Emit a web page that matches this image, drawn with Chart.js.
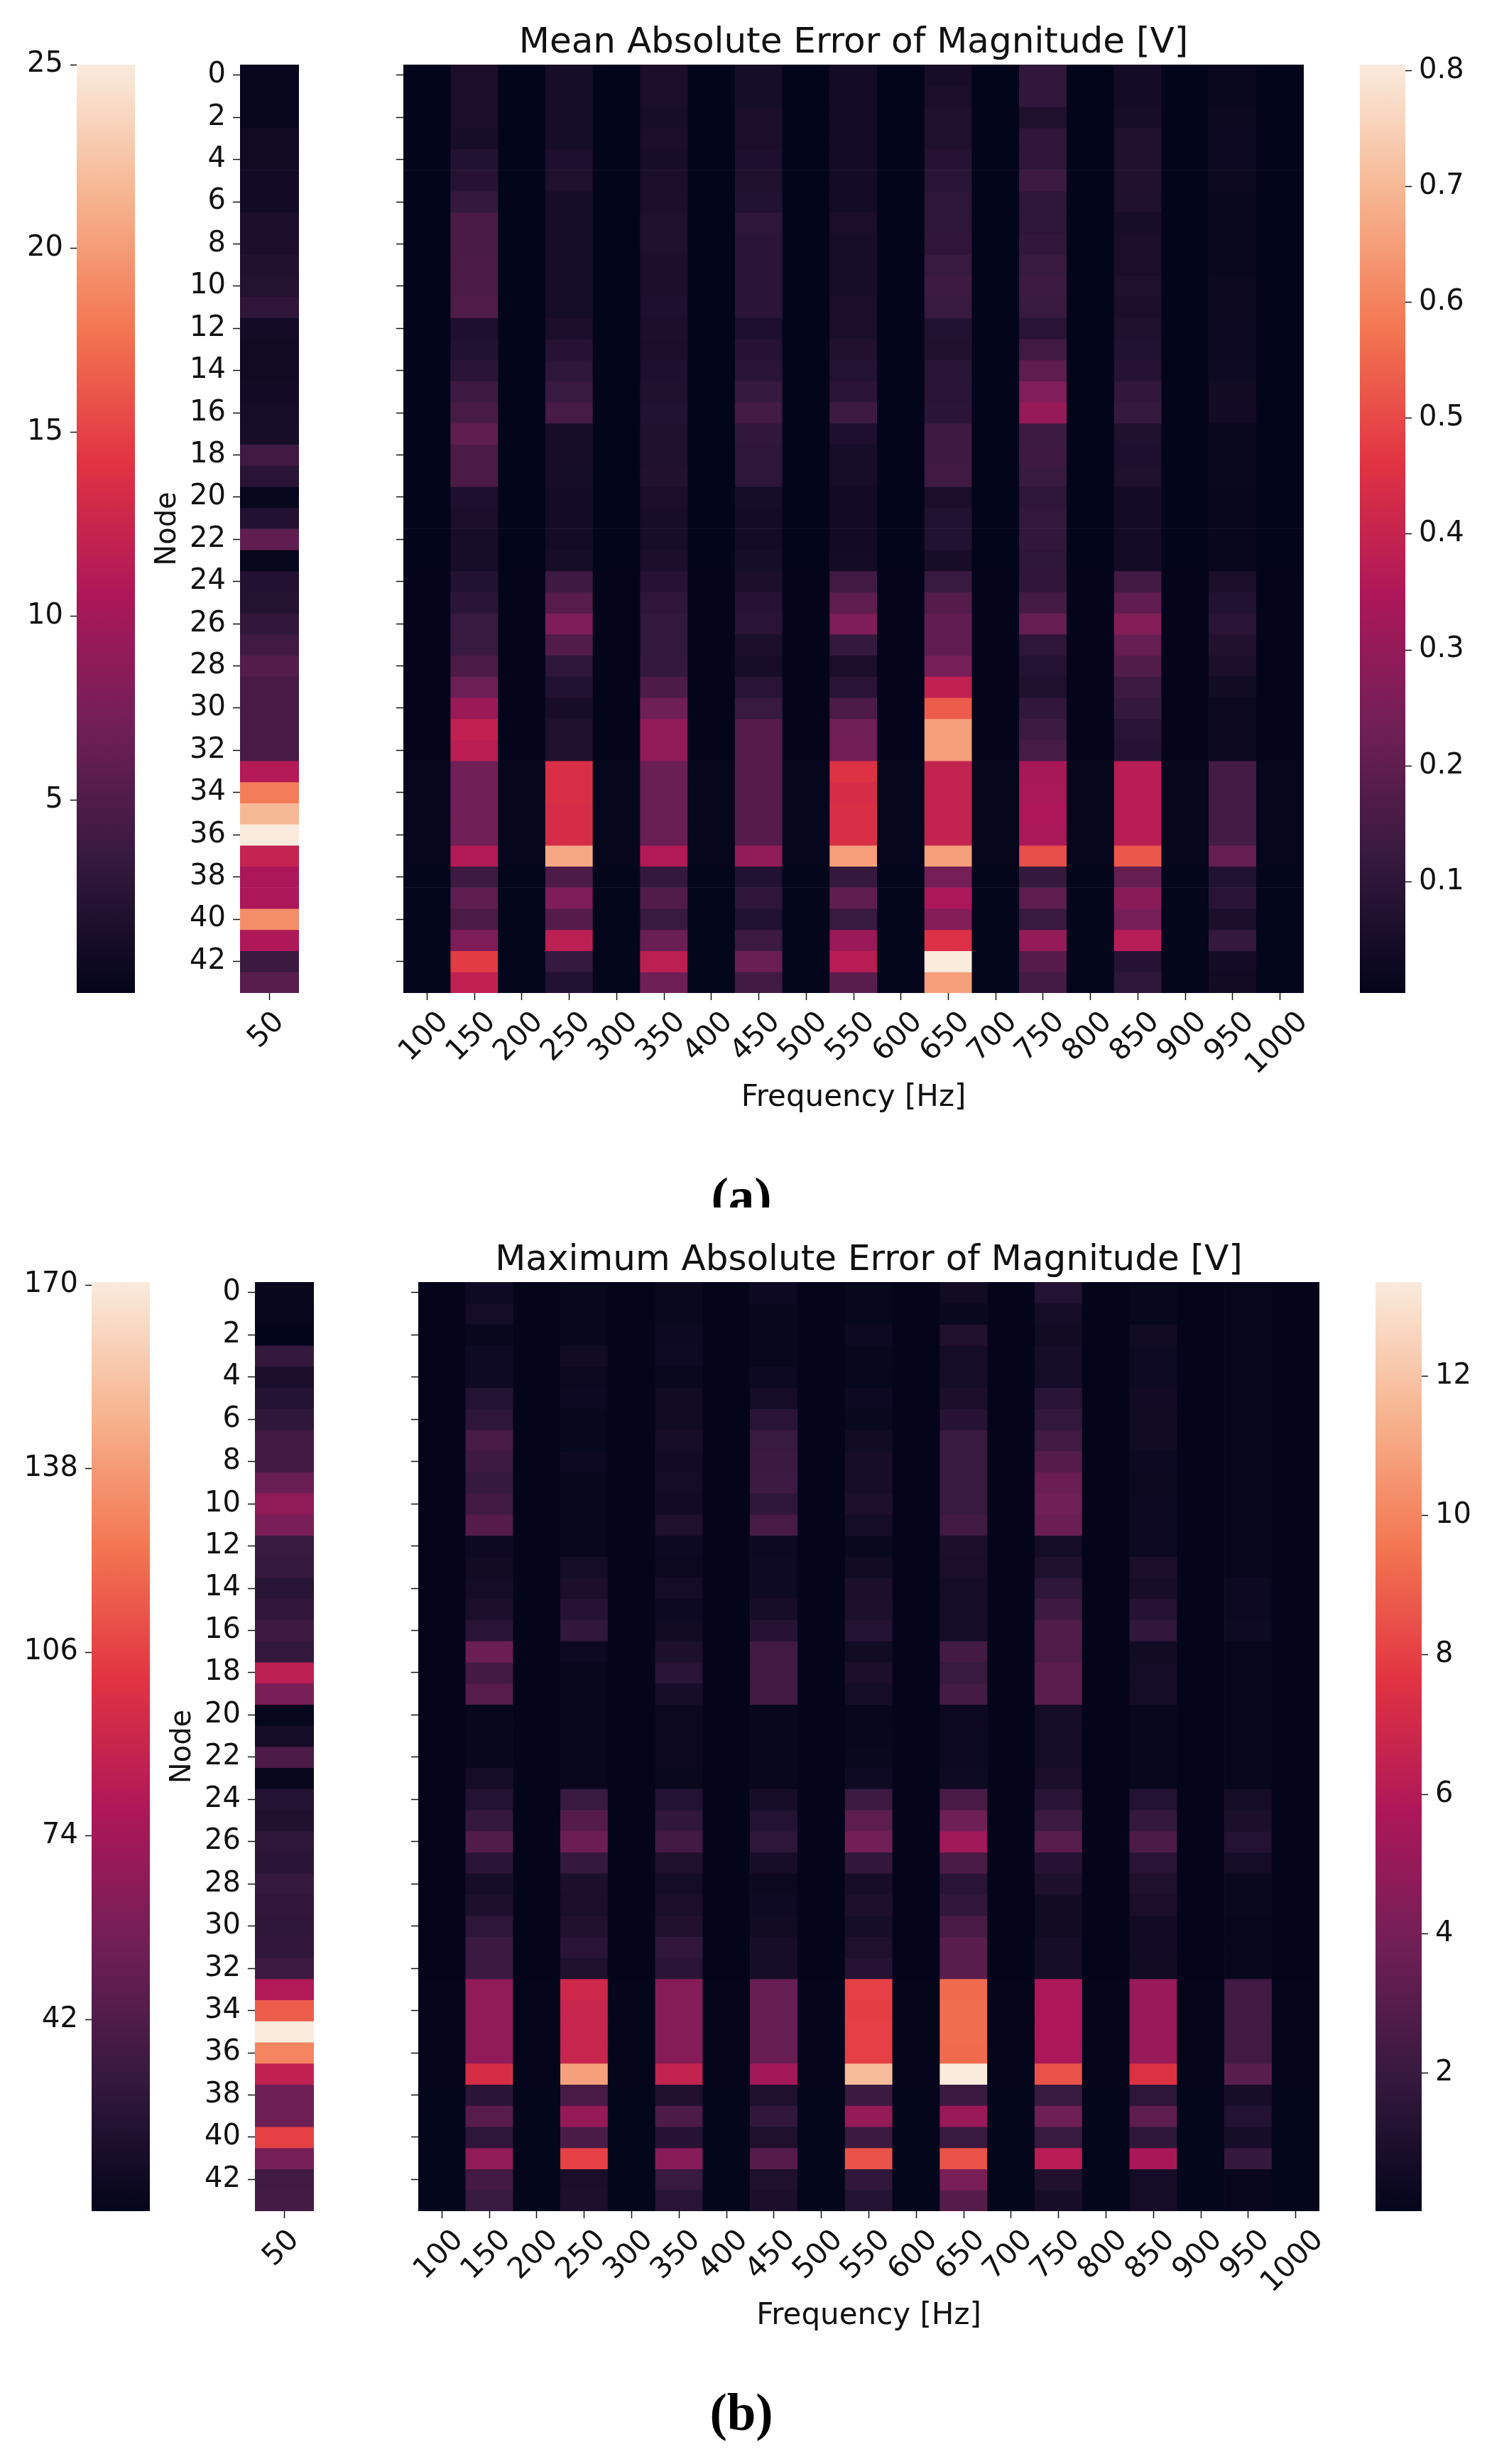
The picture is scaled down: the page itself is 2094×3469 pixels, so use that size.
<!DOCTYPE html>
<html>
<head>
<meta charset="utf-8">
<title>Absolute Error of Magnitude</title>
<script src="https://cdn.jsdelivr.net/npm/chart.js@4/dist/chart.umd.min.js"></script>
<style>
  html, body { margin: 0; padding: 0; background: #fff; }
  #page { position: relative; width: 2094px; height: 3469px; overflow: hidden; }
  canvas { position: absolute; }
  .caption { position: absolute; left: 944px; width: 200px; text-align: center; overflow: hidden;
             font: bold 73px/84px "Liberation Serif", serif; color: #000; }
</style>
</head>
<body>
<div id="page">
  <div class="caption" style="top:1643px;height:57px">(a)</div>
  <div class="caption" style="top:3355px;height:84px">(b)</div>
</div>
<script>
const nodes = [0,1,2,3,4,5,6,7,8,9,10,11,12,13,14,15,16,17,18,19,20,21,22,23,24,25,26,27,28,29,30,31,32,33,34,35,36,37,38,39,40,41,42,43];
const nodeTicks = [0,2,4,6,8,10,12,14,16,18,20,22,24,26,28,30,32,34,36,38,40,42];
const lowFreq = [50];
const highFreqs = [100,150,200,250,300,350,400,450,500,550,600,650,700,750,800,850,900,950,1000];

// mean absolute error [V], one array per frequency, node 0 first
const mean50 = [.1,.1,.1,.7,.7,.9,.9,1.5,1.6,1.9,2.1,2.9,1.0,.7,.7,.9,1.1,1.2,4.1,2.5,.05,2.0,5.9,.05,2.0,2.1,3.1,4.0,5.2,4.5,4.5,4.5,4.5,11.0,18.2,21.7,25,12.2,10.5,10.5,19.2,10.7,3.7,5.5];
const meanQuiet = [.005,.005,.005,.005,.005,.005,.005,.005,.005,.005,.005,.005,.005,.005,.005,.005,.005,.005,.005,.005,.005,.005,.005,.005,.006,.006,.006,.006,.006,.006,.006,.006,.006,.01,.01,.01,.01,.01,.007,.007,.007,.007,.007,.007];
const mean150 = [.056,.056,.056,.052,.076,.084,.116,.160,.160,.164,.164,.168,.064,.076,.096,.136,.156,.2,.164,.164,.064,.056,.052,.052,.076,.096,.124,.124,.164,.224,.316,.388,.376,.232,.232,.232,.232,.356,.132,.196,.164,.26,.476,.388];
const mean250 = [.048,.048,.048,.048,.064,.068,.048,.048,.048,.048,.048,.048,.06,.084,.1,.124,.152,.052,.052,.048,.044,.044,.044,.048,.136,.184,.26,.172,.1,.076,.052,.068,.068,.444,.444,.436,.436,.668,.164,.26,.18,.38,.12,.076];
const mean350 = [.056,.056,.052,.056,.052,.056,.06,.068,.068,.06,.06,.064,.06,.056,.064,.068,.076,.068,.068,.072,.056,.052,.052,.06,.084,.104,.112,.112,.116,.164,.228,.292,.292,.22,.22,.22,.22,.356,.116,.172,.124,.22,.38,.228];
const mean450 = [.048,.048,.056,.056,.064,.068,.076,.1,.096,.096,.096,.096,.064,.084,.096,.12,.148,.108,.1,.1,.048,.044,.044,.048,.06,.084,.092,.056,.052,.092,.124,.18,.18,.18,.18,.18,.18,.292,.076,.104,.076,.132,.22,.14];
const mean550 = [.044,.044,.044,.044,.044,.044,.044,.056,.052,.052,.052,.056,.056,.072,.08,.096,.132,.064,.052,.052,.04,.04,.04,.044,.14,.196,.26,.116,.056,.092,.164,.232,.236,.452,.436,.444,.444,.652,.116,.2,.124,.312,.372,.188];
const mean650 = [.052,.056,.068,.068,.084,.088,.1,.1,.104,.124,.132,.124,.076,.072,.088,.092,.096,.136,.136,.14,.056,.076,.076,.052,.124,.18,.204,.204,.244,.388,.532,.652,.652,.396,.396,.396,.396,.652,.244,.344,.268,.448,.804,.652];
const mean750 = [.108,.108,.068,.104,.104,.132,.1,.1,.108,.124,.132,.124,.092,.14,.196,.264,.304,.132,.136,.124,.1,.112,.108,.1,.104,.148,.212,.1,.08,.068,.108,.132,.152,.336,.34,.348,.34,.508,.116,.196,.124,.3,.18,.148];
const mean850 = [.044,.044,.052,.072,.072,.072,.068,.052,.056,.056,.068,.06,.068,.076,.084,.108,.12,.068,.064,.068,.044,.044,.044,.044,.144,.204,.268,.212,.172,.132,.116,.088,.084,.372,.372,.372,.372,.524,.212,.28,.244,.368,.084,.1];
const mean950 = [.02,.02,.024,.028,.028,.024,.02,.02,.02,.02,.024,.024,.028,.028,.032,.036,.04,.02,.02,.02,.016,.016,.016,.016,.056,.076,.096,.072,.056,.036,.024,.024,.024,.148,.148,.148,.148,.212,.076,.092,.06,.116,.044,.036];
const meanColumns = [meanQuiet,mean150,meanQuiet,mean250,meanQuiet,mean350,meanQuiet,mean450,meanQuiet,mean550,meanQuiet,mean650,meanQuiet,mean750,meanQuiet,mean850,meanQuiet,mean950,meanQuiet];

// maximum absolute error [V]
const max50 = [11,10.2,8.7,31.3,19.1,23.2,28.9,37,37,52.3,66.9,58.8,32.9,32.1,25.6,29.7,35.3,30.5,84.7,58.8,10.2,16.7,41,11,24,22.4,28,27.2,32.1,29.7,28.9,29.7,34.5,79.9,115.5,170.5,130,86.4,54,54,105.8,57.2,36.1,37.8];
const maxQuiet = [.06,.06,.06,.06,.06,.06,.06,.06,.06,.06,.06,.06,.06,.06,.06,.06,.06,.06,.06,.06,.06,.06,.06,.06,.06,.06,.06,.06,.06,.06,.06,.06,.06,.09,.09,.09,.09,.09,.07,.07,.07,.07,.07,.07];
const max150 = [.49,.69,.18,.49,.49,1.22,1.62,2.55,2.15,1.95,2.29,2.95,.42,.55,.69,.95,1.49,3.62,2.35,3.02,.18,.18,.18,.69,1.22,1.89,2.82,1.49,.75,1.02,1.62,2.09,2.09,4.82,4.82,4.82,4.82,7.22,1.55,3.02,1.62,4.82,2.35,2.02];
const max250 = [.18,.18,.18,.55,.35,.42,.18,.18,.42,.18,.18,.18,.22,.69,.95,1.35,1.75,.42,.22,.22,.18,.18,.18,.22,2.02,2.95,3.62,1.89,.95,.89,1.15,1.49,1.09,6.95,6.69,6.69,6.69,10.82,2.55,5.02,2.62,8.02,.89,1.02];
const max350 = [.29,.29,.42,.49,.29,.55,.55,.82,.62,.69,.62,1.09,.42,.35,.69,.42,.55,1.02,1.49,.82,.35,.35,.35,.29,1.22,1.75,2.35,1.09,.69,.89,1.15,1.75,1.49,4.49,4.49,4.49,4.49,6.55,1.15,2.69,1.35,4.55,2.02,1.42];
const max450 = [.42,.22,.22,.22,.42,.69,1.49,2.02,2.09,2.15,1.69,2.55,.42,.49,.49,.82,1.35,2.29,2.29,2.29,.22,.22,.22,.22,.82,1.22,1.62,.82,.35,.49,.55,.82,.75,3.55,3.55,3.55,3.55,5.42,1.09,1.75,1.09,2.95,1.09,.95];
const max550 = [.18,.18,.42,.22,.18,.42,.29,.55,.82,.82,1.02,.69,.29,.55,.95,1.02,1.22,.55,.95,.69,.18,.22,.29,.49,2.15,3.22,3.89,1.75,.82,1.02,.75,1.09,1.35,8.02,7.95,8.02,8.02,11.68,2.09,4.95,2.09,8.55,1.75,1.22];
const max650 = [.55,.29,1.15,.69,.69,.95,1.35,2.02,2.02,2.02,2.02,2.29,.95,.89,.69,.69,.69,2.35,2.02,2.42,.42,.42,.42,.49,2.55,3.75,5.35,2.62,1.49,1.75,2.55,3.09,3.09,9.22,9.29,9.29,9.22,13.35,2.09,5.15,2.02,8.55,4.15,2.95];
const max750 = [1.22,.69,.55,.75,.69,1.49,1.82,2.29,2.95,3.62,3.82,3.62,.69,1.09,1.69,2.22,2.82,2.75,3.15,3.15,.69,.69,.69,.89,1.49,2.15,3.09,1.35,1.02,.55,.55,.75,.75,5.69,5.75,5.75,5.69,8.55,2.02,3.75,2.02,6.15,1.15,.82];
const max850 = [.18,.18,.55,.49,.49,.62,.55,.55,.42,.35,.42,.42,.42,.95,.82,1.35,1.75,.55,.69,.69,.22,.18,.18,.18,1.22,1.89,2.69,1.49,1.09,.89,.62,.62,.55,5.09,5.09,5.09,5.09,7.49,1.62,3.22,1.69,5.62,.69,.69];
const max950 = [.15,.15,.15,.15,.15,.12,.12,.12,.12,.12,.12,.12,.12,.12,.42,.42,.49,.12,.12,.12,.12,.12,.12,.12,.69,.95,1.22,.69,.29,.29,.18,.18,.18,2.29,2.29,2.29,2.29,3.09,.82,1.22,.75,1.89,.22,.22];
const maxColumns = [maxQuiet,max150,maxQuiet,max250,maxQuiet,max350,maxQuiet,max450,maxQuiet,max550,maxQuiet,max650,maxQuiet,max750,maxQuiet,max850,maxQuiet,max950,maxQuiet];

const meanLowTicks = [5,10,15,20,25];
const meanHighTicks = [.1,.2,.3,.4,.5,.6,.7,.8];
const maxLowTicks = [42,74,106,138,170];
const maxHighTicks = [2,4,6,8,10,12];

const rocketStops = [[3,5,26],[53,25,62],[112,31,87],[173,23,89],[225,51,66],[243,118,81],[246,180,143],[250,235,221]];

const FONT = '"DejaVu Sans", sans-serif';
const INK = '#111';
const page = document.getElementById('page');

function rocket(t){
  t = Math.min(1, Math.max(0, t));
  const p = t * (rocketStops.length - 1);
  const i = Math.min(Math.floor(p), rocketStops.length - 2);
  const a = rocketStops[i], b = rocketStops[i + 1], f = p - i;
  return `rgb(${a.map((c, k) => Math.round(c + (b[k] - c) * f)).join(',')})`;
}

function addCanvas(left, top, width, height){
  const c = document.createElement('canvas');
  c.width = width; c.height = height;
  c.style.left = left + 'px'; c.style.top = top + 'px';
  c.style.width = width + 'px'; c.style.height = height + 'px';
  page.appendChild(c);
  return c;
}

// x tick labels rotated about their centre, top of the box a fixed distance below the axis
const slantedLabels = {
  id: 'slantedLabels',
  afterDraw(chart){
    const xs = chart.scales.x, ctx = chart.ctx;
    ctx.save();
    ctx.font = `41px ${FONT}`;
    ctx.fillStyle = INK;
    ctx.textAlign = 'center';
    ctx.textBaseline = 'middle';
    xs.ticks.forEach((tick, i) => {
      const w = ctx.measureText(tick.label).width;
      const half = (w + 30) * Math.SQRT1_2 / 2;
      ctx.save();
      ctx.translate(xs.getPixelForTick(i) - 4, xs.top + 24 + half);
      ctx.rotate(-Math.PI / 4);
      ctx.fillText(tick.label, 0, 0);
      ctx.restore();
    });
    ctx.restore();
  }
};

function heatmap(box, freqs, columns, range, extra){
  const ml = extra.yLabels ? 121 : 40, mb = 180, mt = extra.title ? 61 : 40, mr = 50;
  const canvas = addCanvas(box.left - ml, box.top - mt, box.width + ml + mr, box.height + mt + mb);
  const datasets = nodes.map(row => ({
    label: String(row),
    data: freqs.map((f, c) => ({ x: String(f), y: 1, v: columns[c][row] })),
    backgroundColor: ctx => rocket((ctx.raw.v - range[0]) / (range[1] - range[0])),
    borderWidth: 0,
    barPercentage: 1,
    categoryPercentage: 1
  }));
  return new Chart(canvas, {
    type: 'bar',
    data: { labels: freqs.map(String), datasets },
    plugins: [slantedLabels],
    options: {
      responsive: false,
      animation: false,
      devicePixelRatio: 1,
      layout: { padding: { top: extra.title ? 0 : mt, right: mr, left: 0, bottom: 0 } },
      plugins: {
        legend: { display: false },
        tooltip: { enabled: false },
        title: {
          display: !!extra.title,
          text: extra.title,
          fullSize: false,
          color: INK,
          font: { family: FONT, size: 50, weight: 'normal', lineHeight: 1 },
          padding: { top: 6, bottom: 5 }
        }
      },
      scales: {
        x: {
          type: 'category',
          stacked: true,
          offset: true,
          afterFit: s => { s.height = mb; },
          grid: { offset: false, drawOnChartArea: false, tickLength: 10, tickColor: INK, tickWidth: 1.5 },
          border: { display: false },
          ticks: { display: false, autoSkip: false },
          title: {
            display: !!extra.xTitle,
            text: extra.xTitle,
            color: INK,
            font: { family: FONT, size: 42, lineHeight: 1 },
            padding: { top: 0, bottom: 11 }
          }
        },
        y: {
          type: 'linear',
          stacked: true,
          reverse: true,
          min: 0,
          max: nodes.length,
          afterFit: s => { s.width = ml; },
          afterBuildTicks: s => { s.ticks = nodeTicks.map(n => ({ value: n + 0.5 })); },
          grid: { drawOnChartArea: false, tickLength: 10, tickColor: INK, tickWidth: 1.5 },
          border: { display: false },
          ticks: {
            display: !!extra.yLabels,
            autoSkip: false,
            padding: 10,
            color: INK,
            font: { family: FONT, size: 40 },
            callback: v => String(v - 0.5)
          },
          title: {
            display: !!extra.yLabels,
            text: 'Node',
            color: INK,
            font: { family: FONT, size: 40, lineHeight: 1 },
            padding: { top: 0, bottom: 0 }
          }
        }
      }
    }
  });
}

function colorbar(box, side, range, ticks){
  const sideWidth = 120, pad = 40;
  const left = side === 'left' ? box.left - sideWidth : box.left;
  const canvas = addCanvas(left, box.top - pad, box.width + sideWidth, box.height + pad * 2);
  return new Chart(canvas, {
    type: 'bar',
    data: {
      labels: ['scale'],
      datasets: [{
        data: [[range[0], range[1]]],
        barPercentage: 1,
        categoryPercentage: 1,
        borderWidth: 0,
        backgroundColor: ctx => {
          const area = ctx.chart.chartArea;
          if(!area) return rocket(0.5);
          const g = ctx.chart.ctx.createLinearGradient(0, area.bottom, 0, area.top);
          rocketStops.forEach((c, i) => g.addColorStop(i / (rocketStops.length - 1), `rgb(${c.join(',')})`));
          return g;
        }
      }]
    },
    options: {
      responsive: false,
      animation: false,
      devicePixelRatio: 1,
      layout: { padding: { top: pad, bottom: pad } },
      plugins: { legend: { display: false }, tooltip: { enabled: false } },
      scales: {
        x: { display: false, offset: true },
        y: {
          type: 'linear',
          position: side,
          min: range[0],
          max: range[1],
          afterFit: s => { s.width = sideWidth; },
          afterBuildTicks: s => { s.ticks = ticks.map(value => ({ value })); },
          grid: { drawOnChartArea: false, tickLength: 9, tickColor: INK, tickWidth: 1.5 },
          border: { display: false },
          ticks: {
            autoSkip: false,
            padding: 10,
            color: INK,
            font: { family: FONT, size: 40 },
            callback: v => String(v)
          }
        }
      }
    }
  });
}

// panel (a)
const meanLowRange = [-0.25, 25];
const meanHighRange = [0.004, 0.805];
colorbar({ left: 108, top: 91, width: 82, height: 1307 }, 'left', meanLowRange, meanLowTicks);
heatmap({ left: 338, top: 91, width: 83, height: 1307 }, lowFreq, [mean50], meanLowRange, { yLabels: true });
heatmap({ left: 568, top: 91, width: 1268, height: 1307 }, highFreqs, meanColumns, meanHighRange,
  { title: 'Mean Absolute Error of Magnitude [V]', xTitle: 'Frequency [Hz]' });
colorbar({ left: 1915, top: 91, width: 64, height: 1307 }, 'right', meanHighRange, meanHighTicks);

// panel (b)
const maxLowRange = [8.6, 170.5];
const maxHighRange = [0.02, 13.35];
colorbar({ left: 129, top: 1805, width: 82, height: 1308 }, 'left', maxLowRange, maxLowTicks);
heatmap({ left: 359, top: 1805, width: 83, height: 1308 }, lowFreq, [max50], maxLowRange, { yLabels: true });
heatmap({ left: 589, top: 1805, width: 1269, height: 1308 }, highFreqs, maxColumns, maxHighRange,
  { title: 'Maximum Absolute Error of Magnitude [V]', xTitle: 'Frequency [Hz]' });
colorbar({ left: 1937, top: 1805, width: 65, height: 1308 }, 'right', maxHighRange, maxHighTicks);
</script>
</body>
</html>
